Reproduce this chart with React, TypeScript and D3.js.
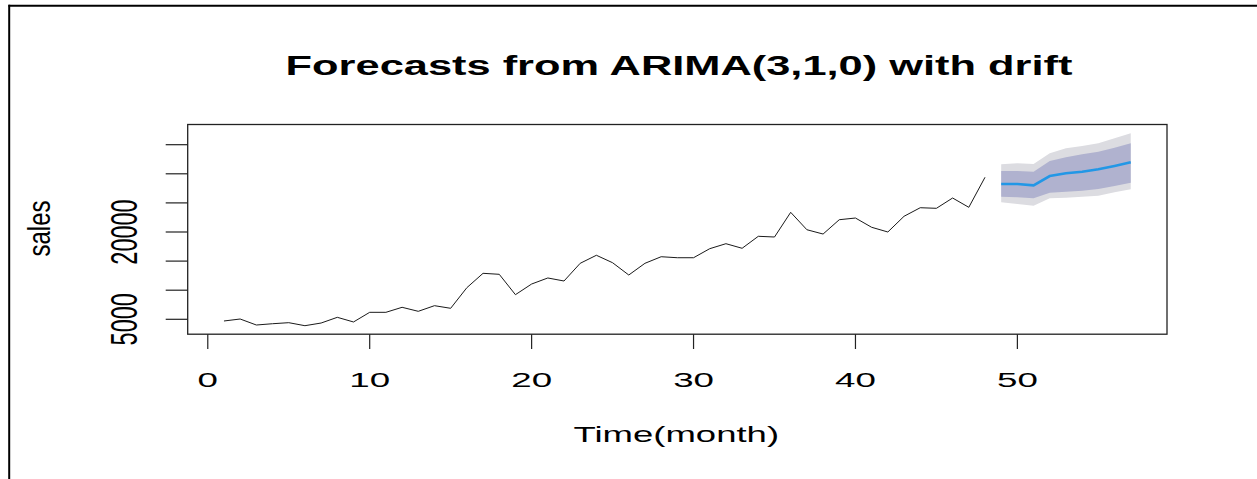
import React from "react";
import * as d3 from "d3";

// Observed monthly sales, months 1..48
const salesHistory: number[] = [
  4710, 5050, 4020, 4240, 4420, 3900, 4360, 5340, 4540, 6200,
  6200, 7060, 6370, 7340, 6890, 10430, 12900, 12730, 9230, 11060,
  12100, 11580, 14620, 16000, 14720, 12610, 14620, 15750, 15580, 15580,
  17130, 17990, 17200, 19260, 19140, 23380, 20390, 19650, 22110, 22400,
  20810, 20000, 22700, 24170, 24070, 25840, 24240, 29400,
];
const historyStart = 1;

// ARIMA(3,1,0) with drift forecast, months 49..57
const forecastStart = 49;
const forecastMean: number[] = [28240, 28240, 28020, 29620, 30080, 30360, 30770, 31340, 31970];
const lower80: number[] = [26060, 25960, 25790, 26750, 26920, 27090, 27390, 27900, 28470];
const upper80: number[] = [30480, 30480, 30360, 32200, 32830, 33350, 33790, 34480, 35240];
const lower95: number[] = [25100, 24810, 24520, 25790, 25890, 26060, 26230, 26820, 27330];
const upper95: number[] = [31630, 31800, 31680, 33520, 34380, 34770, 35240, 36100, 36950];

const xTicks: number[] = [0, 10, 20, 30, 40, 50];
const yTicks: number[] = [5000, 10000, 15000, 20000, 25000, 30000, 35000];
const yLabelled: number[] = [5000, 20000];

const titleText = "Forecasts from ARIMA(3,1,0) with drift";
const xTitle = "Time(month)";
const yTitle = "sales";

const W = 1257;
const H = 479;
const box = { left: 187.7, right: 1167, top: 124.5, bottom: 334.2 };
const FONT = "'Liberation Sans', Arial, Helvetica, sans-serif";

export default function App() {
  const x = d3.scaleLinear().domain([-1.24, 59.24]).range([box.left, box.right]);
  const y = d3.scaleLinear().domain([2440, 38470]).range([box.bottom, box.top]);

  const hist = salesHistory.map((v, i) => ({ t: historyStart + i, v }));
  const fc = forecastMean.map((v, i) => ({
    t: forecastStart + i,
    v,
    lo80: lower80[i],
    hi80: upper80[i],
    lo95: lower95[i],
    hi95: upper95[i],
  }));

  const line = d3
    .line<{ t: number; v: number }>()
    .x((d) => x(d.t))
    .y((d) => y(d.v));

  const band95 = d3
    .area<(typeof fc)[number]>()
    .x((d) => x(d.t))
    .y0((d) => y(d.lo95))
    .y1((d) => y(d.hi95));
  const band80 = d3
    .area<(typeof fc)[number]>()
    .x((d) => x(d.t))
    .y0((d) => y(d.lo80))
    .y1((d) => y(d.hi80));

  return (
    <div style={{ position: "fixed", left: 0, top: 0 }}>
      <svg width={W} height={H} style={{ display: "block", background: "#fff" }}>
        {/* outer frame */}
        <line x1={8.5} x2={W} y1={5.8} y2={5.8} stroke="#000" strokeWidth={2} />
        <line x1={9.2} x2={9.2} y1={4.8} y2={H} stroke="#000" strokeWidth={2} />

        {/* title */}
        <text
          transform={`translate(679,75) scale(1.55,1)`}
          textAnchor="middle"
          fontFamily={FONT}
          fontWeight="bold"
          fontSize={28}
          fill="#000"
        >
          {titleText}
        </text>

        {/* prediction intervals */}
        <path d={band95(fc) ?? ""} fill="#DCDCE1" stroke="none" />
        <path d={band80(fc) ?? ""} fill="#B0B2CF" stroke="none" />

        {/* observed series */}
        <path d={line(hist) ?? ""} fill="none" stroke="#1a1a1a" strokeWidth={1} />

        {/* point forecasts */}
        <path d={line(fc) ?? ""} fill="none" stroke="#2297E6" strokeWidth={2.6} />

        {/* plot box */}
        <rect
          x={box.left}
          y={box.top}
          width={box.right - box.left}
          height={box.bottom - box.top}
          fill="none"
          stroke="#222"
          strokeWidth={1.3}
        />

        {/* x axis */}
        {xTicks.map((t) => (
          <g key={`xt${t}`}>
            <line x1={x(t)} x2={x(t)} y1={box.bottom} y2={349} stroke="#222" strokeWidth={1.2} />
            <text
              transform={`translate(${x(t)},386.7) scale(1.75,1)`}
              textAnchor="middle"
              fontFamily={FONT}
              fontSize={21}
              fill="#000"
            >
              {t}
            </text>
          </g>
        ))}

        {/* y axis */}
        {yTicks.map((v) => (
          <line key={`yt${v}`} x1={165.7} x2={box.left} y1={y(v)} y2={y(v)} stroke="#222" strokeWidth={1.2} />
        ))}
        {yLabelled.map((v) => (
          <text
            key={`yl${v}`}
            transform={`translate(136.7,${y(v)}) scale(1.59,1) rotate(-90)`}
            textAnchor="middle"
            fontFamily={FONT}
            fontSize={23.5}
            fill="#000"
          >
            {v}
          </text>
        ))}

        {/* axis titles */}
        <text
          transform={`translate(676.3,442.3) scale(1.66,1)`}
          textAnchor="middle"
          fontFamily={FONT}
          fontSize={22}
          fill="#000"
        >
          {xTitle}
        </text>
        <text
          transform={`translate(50,228.5) scale(1.3,1) rotate(-90)`}
          textAnchor="middle"
          fontFamily={FONT}
          fontSize={24}
          fill="#000"
        >
          {yTitle}
        </text>
      </svg>
    </div>
  );
}
